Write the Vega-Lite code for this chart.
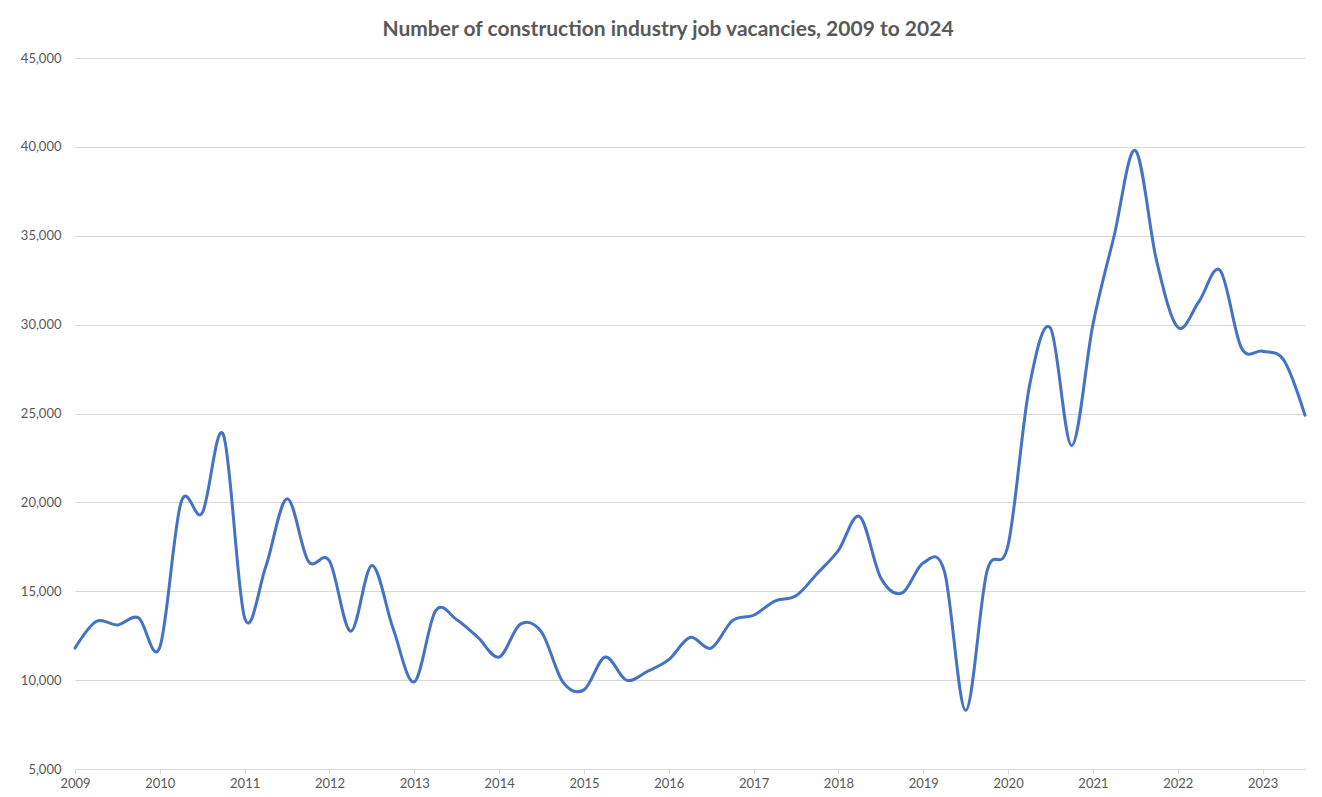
{
  "$schema": "https://vega.github.io/schema/vega-lite/v6.json",
  "autosize": "none",
  "width": 1230,
  "height": 711,
  "padding": {"left": 75, "top": 58, "right": 17, "bottom": 28},
  "background": "white",
  "title": {
    "text": "Number of construction industry job vacancies, 2009 to 2024",
    "font": "Lato",
    "fontSize": 21,
    "fontWeight": "bold",
    "color": "#595959",
    "anchor": "middle",
    "dx": -22,
    "offset": 12
  },
  "config": {
    "view": {"stroke": null},
    "axis": {
      "labelFont": "Lato",
      "labelFontSize": 13,
      "labelColor": "#595959",
      "gridColor": "#d9d9d9",
      "gridWidth": 1,
      "domainColor": "#d9d9d9",
      "tickColor": "#d9d9d9",
      "title": null
    }
  },
  "data": {
    "values": [
      {"t": 2009.00, "vacancies": 11800},
      {"t": 2009.25, "vacancies": 13300},
      {"t": 2009.50, "vacancies": 13100},
      {"t": 2009.75, "vacancies": 13500},
      {"t": 2010.00, "vacancies": 11850},
      {"t": 2010.25, "vacancies": 20000},
      {"t": 2010.50, "vacancies": 19400},
      {"t": 2010.75, "vacancies": 23800},
      {"t": 2011.00, "vacancies": 13500},
      {"t": 2011.25, "vacancies": 16400},
      {"t": 2011.50, "vacancies": 20200},
      {"t": 2011.75, "vacancies": 16700},
      {"t": 2012.00, "vacancies": 16700},
      {"t": 2012.25, "vacancies": 12750},
      {"t": 2012.50, "vacancies": 16450},
      {"t": 2012.75, "vacancies": 12900},
      {"t": 2013.00, "vacancies": 9900},
      {"t": 2013.25, "vacancies": 13900},
      {"t": 2013.50, "vacancies": 13400},
      {"t": 2013.75, "vacancies": 12400},
      {"t": 2014.00, "vacancies": 11300},
      {"t": 2014.25, "vacancies": 13150},
      {"t": 2014.50, "vacancies": 12700},
      {"t": 2014.75, "vacancies": 9900},
      {"t": 2015.00, "vacancies": 9450},
      {"t": 2015.25, "vacancies": 11300},
      {"t": 2015.50, "vacancies": 10000},
      {"t": 2015.75, "vacancies": 10500},
      {"t": 2016.00, "vacancies": 11150},
      {"t": 2016.25, "vacancies": 12400},
      {"t": 2016.50, "vacancies": 11800},
      {"t": 2016.75, "vacancies": 13350},
      {"t": 2017.00, "vacancies": 13650},
      {"t": 2017.25, "vacancies": 14450},
      {"t": 2017.50, "vacancies": 14750},
      {"t": 2017.75, "vacancies": 16000},
      {"t": 2018.00, "vacancies": 17300},
      {"t": 2018.25, "vacancies": 19200},
      {"t": 2018.50, "vacancies": 15750},
      {"t": 2018.75, "vacancies": 14900},
      {"t": 2019.00, "vacancies": 16600},
      {"t": 2019.25, "vacancies": 16100},
      {"t": 2019.50, "vacancies": 8300},
      {"t": 2019.75, "vacancies": 16100},
      {"t": 2020.00, "vacancies": 17600},
      {"t": 2020.25, "vacancies": 26500},
      {"t": 2020.50, "vacancies": 29800},
      {"t": 2020.75, "vacancies": 23200},
      {"t": 2021.00, "vacancies": 30000},
      {"t": 2021.25, "vacancies": 35000},
      {"t": 2021.50, "vacancies": 39800},
      {"t": 2021.75, "vacancies": 33600},
      {"t": 2022.00, "vacancies": 29850},
      {"t": 2022.25, "vacancies": 31300},
      {"t": 2022.50, "vacancies": 33050},
      {"t": 2022.75, "vacancies": 28700},
      {"t": 2023.00, "vacancies": 28500},
      {"t": 2023.25, "vacancies": 28000},
      {"t": 2023.50, "vacancies": 24900}
    ]
  },
  "mark": {"type": "line", "interpolate": "cardinal", "color": "#4472C4", "strokeWidth": 3, "strokeCap": "round"},
  "encoding": {
    "x": {
      "field": "t",
      "type": "quantitative",
      "scale": {"domain": [2009, 2023.5], "nice": false, "zero": false},
      "axis": {
        "values": [2009, 2010, 2011, 2012, 2013, 2014, 2015, 2016, 2017, 2018, 2019, 2020, 2021, 2022, 2023],
        "format": "d",
        "grid": false,
        "tickSize": 5,
        "labelPadding": 3,
        "labelFlush": false,
        "labelOverlap": false
      }
    },
    "y": {
      "field": "vacancies",
      "type": "quantitative",
      "scale": {"domain": [5000, 45000], "nice": false, "zero": false},
      "axis": {
        "values": [5000, 10000, 15000, 20000, 25000, 30000, 35000, 40000, 45000],
        "format": ",.0f",
        "domain": false,
        "ticks": false,
        "labelPadding": 14
      }
    }
  }
}
